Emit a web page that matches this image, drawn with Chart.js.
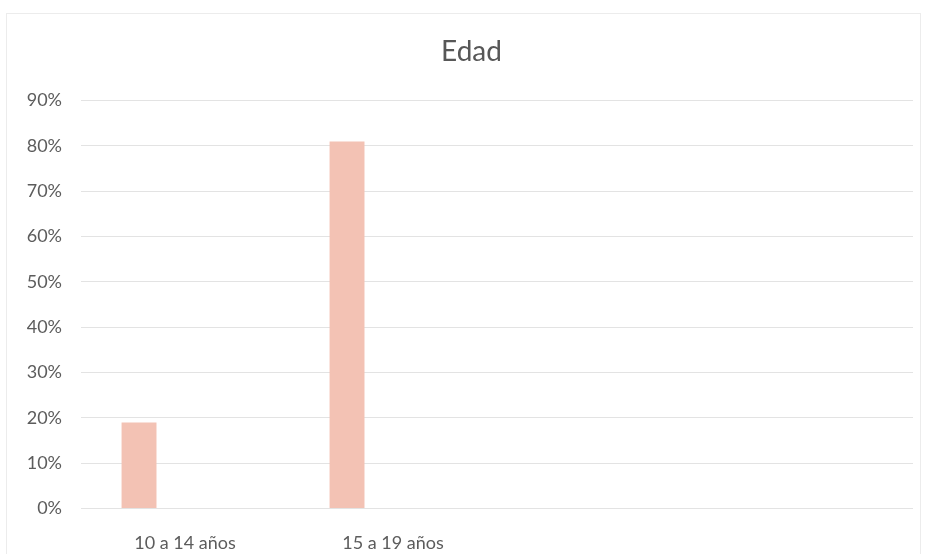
<!DOCTYPE html>
<html>
<head>
<meta charset="utf-8">
<script src="https://cdn.jsdelivr.net/npm/chart.js@4/dist/chart.umd.min.js"></script>
<style>
  html, body { margin: 0; padding: 0; background: #ffffff; }
  #wrap { position: relative; width: 925px; height: 554px; }
  canvas { display: block; }
</style>
</head>
<body>
<div id="wrap"><canvas id="chart" width="925" height="554"></canvas></div>
<script>
// Age groups and share of respondents (percent)
const categories = ['10 a 14 años', '15 a 19 años', '', ''];
const edad = [19, 81, null, null];
// Empty companion series of the clustered column layout
const serie2 = [null, null, null, null];
const serie3 = [null, null, null, null];
const yTicks = [0, 10, 20, 30, 40, 50, 60, 70, 80, 90];

const FONT = 'Lato, "Open Sans", "DejaVu Sans", sans-serif';
const TEXT = '#5c5c5c';
const GRID = '#e3e3e3';
const BAR = '#f3c2b4';

// Thin chart-area frame, and title box starting where the frame starts
const frame = {
  id: 'frame',
  afterLayout(chart) {
    const t = chart.titleBlock;
    if (t) { t.left += 30; t.width -= 30; }
  },
  beforeDraw(chart) {
    const ctx = chart.ctx;
    ctx.save();
    ctx.fillStyle = '#ffffff';
    ctx.fillRect(0, 0, chart.width, chart.height);
    ctx.strokeStyle = '#ececec';
    ctx.lineWidth = 1;
    ctx.strokeRect(6.5, 13.5, 914, 560);
    ctx.restore();
  }
};

new Chart(document.getElementById('chart'), {
  type: 'bar',
  data: {
    labels: categories,
    datasets: [
      { label: 'Edad', data: edad, backgroundColor: BAR },
      { label: 'Serie 2', data: serie2, backgroundColor: BAR },
      { label: 'Serie 3', data: serie3, backgroundColor: BAR }
    ]
  },
  options: {
    responsive: false,
    animation: false,
    categoryPercentage: 0.663,
    barPercentage: 0.76,
    layout: { padding: { left: 0, right: 12, top: 0, bottom: 0 } },
    plugins: {
      legend: { display: false },
      tooltip: { enabled: false },
      title: {
        display: true,
        text: 'Edad',
        color: '#575757',
        font: { family: FONT, size: 28, weight: 'normal' },
        padding: { top: 35, bottom: 32 }
      }
    },
    scales: {
      x: {
        grid: { display: false, drawTicks: false },
        border: { display: false },
        ticks: {
          color: TEXT,
          font: { family: FONT, size: 18 },
          padding: 24,
          maxRotation: 0,
          autoSkip: false
        },
        afterFit(scale) { scale.height = 45.5; }
      },
      y: {
        min: 0,
        max: 90,
        afterBuildTicks(scale) { scale.ticks = yTicks.map(v => ({ value: v })); },
        grid: { color: GRID, lineWidth: 1, drawTicks: false },
        border: { display: false },
        ticks: {
          color: TEXT,
          font: { family: FONT, size: 18 },
          padding: 19,
          callback: v => v + '%'
        },
        afterFit(scale) { scale.width = 81; }
      }
    }
  },
  plugins: [frame]
});
</script>
</body>
</html>
